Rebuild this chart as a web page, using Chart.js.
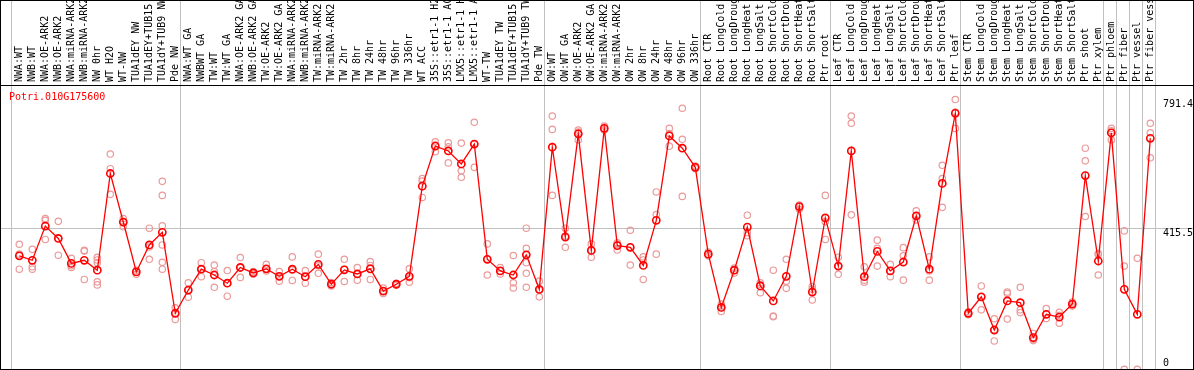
<!DOCTYPE html>
<html>
<head>
<meta charset="utf-8">
<script src="https://cdn.jsdelivr.net/npm/chart.js@4.4.1/dist/chart.umd.min.js"></script>
<style>
  html, body { margin: 0; padding: 0; background: #fff; }
  #wrap { width: 1194px; height: 370px; }
</style>
</head>
<body>
<div id="wrap"><canvas id="expr" width="1194" height="370"></canvas></div>
<script>
const geneId = 'Potri.010G175600';

const samples = [
  'NWA:WT', 'NWB:WT', 'NWA:OE-ARK2', 'NWB:OE-ARK2', 'NWA:miRNA-ARK2', 'NWB:miRNA-ARK2',
  'NW 0hr', 'WT H2O', 'WT-NW', 'TUA1dEY NW', 'TUA1dEY+TUB15', 'TUA1dY+TUB9 NW', 'Pde NW',
  'NWA:WT GA', 'NWBWT GA', 'TW:WT', 'TW:WT GA', 'NWA:OE-ARK2 GA', 'NWB:OE-ARK2 GA',
  'TW:OE-ARK2', 'TW:OE-ARK2 GA', 'NWA:miRNA-ARK2', 'NWB:miRNA-ARK2', 'TW:miRNA-ARK2',
  'TW:miRNA-ARK2', 'TW 2hr', 'TW 8hr', 'TW 24hr', 'TW 48hr', 'TW 96hr', 'TW 336hr',
  'WT ACC', '35S::etr1-1 H2', '35S::etr1-1 AC', 'LMX5::etr1-1 H', 'LMX5::etr1-1 A',
  'WT-TW', 'TUA1dEY TW', 'TUA1dEY+TUB15', 'TUA1dY+TUB9 TW', 'Pde TW',
  'OW:WT', 'OW:WT GA', 'OW:OE-ARK2', 'OW:OE-ARK2 GA', 'OW:miRNA-ARK2', 'OW:miRNA-ARK2',
  'OW 2hr', 'OW 8hr', 'OW 24hr', 'OW 48hr', 'OW 96hr', 'OW 336hr',
  'Root CTR', 'Root LongCold', 'Root LongDroug', 'Root LongHeat', 'Root LongSalt',
  'Root ShortCold', 'Root ShortDrou', 'Root ShortHeat', 'Root ShortSalt', 'Ptr root',
  'Leaf CTR', 'Leaf LongCold', 'Leaf LongDroug', 'Leaf LongHeat', 'Leaf LongSalt',
  'Leaf ShortCold', 'Leaf ShortDrou', 'Leaf ShortHeat', 'Leaf ShortSalt', 'Ptr leaf',
  'Stem CTR', 'Stem LongCold', 'Stem LongDroug', 'Stem LongHeat', 'Stem LongSalt',
  'Stem ShortCold', 'Stem ShortDrou', 'Stem ShortHeat', 'Stem ShortSalt',
  'Ptr shoot', 'Ptr xylem', 'Ptr phloem', 'Ptr fiber', 'Ptr vessel', 'Ptr fiber vess'
];

// mean expression per sample
const means = [
  334, 321, 421, 385, 312, 321, 292, 575, 433, 287, 366, 403, 166,
  234, 295, 278, 254, 300, 284, 296, 274, 295, 273, 309, 251, 293, 281, 296, 231, 251, 274,
  538, 655, 641, 603, 661, 324, 290, 278, 337, 236,
  652, 389, 691, 350, 707, 364, 359, 306, 438, 685, 649, 593,
  339, 183, 292, 418, 246, 202, 274, 478, 228, 445,
  304, 641, 273, 347, 290, 316, 451, 295, 546, 751,
  166, 214, 117, 202, 197, 95, 163, 155, 193, 569, 319, 694, 236, 163, 678
];

// individual replicates per sample
const replicates = [
  [368, 339, 295], [353, 302, 295], [443, 438, 382], [435, 385, 336], [327, 305, 300],
  [350, 348, 265], [330, 322, 314, 258, 249], [632, 589, 514], [443, 433, 419],
  [292, 287, 280], [415, 360, 324], [552, 511, 422, 366, 315, 295], [182, 166, 148],
  [255, 234, 213], [314, 296, 273], [307, 288, 242], [291, 254, 216], [329, 300, 271],
  [288, 284, 280], [309, 296, 290], [288, 274, 260], [331, 292, 262], [291, 273, 254],
  [339, 305, 283], [256, 251, 246], [324, 295, 259], [300, 281, 263], [317, 306, 265],
  [240, 231, 224], [254, 251, 248], [296, 270, 257], [560, 553, 505], [668, 658, 639],
  [665, 653, 606], [664, 583, 564], [725, 661, 593], [369, 325, 278], [300, 290, 281],
  [335, 255, 240], [415, 356, 337, 314, 283, 242], [260, 234, 214],
  [743, 704, 511], [415, 392, 359], [702, 696, 673], [369, 350, 330], [714, 707, 702],
  [372, 368, 351], [409, 360, 307], [331, 322, 265], [521, 455, 339], [707, 692, 655],
  [766, 675, 508], [597, 593, 589],
  [345, 339, 334], [193, 185, 171], [298, 292, 284], [453, 402, 393], [255, 250, 226],
  [292, 158, 156], [324, 260, 239], [483, 478, 471], [244, 236, 205], [511, 434, 382],
  [330, 304, 280], [743, 722, 454], [302, 263, 257], [380, 356, 304], [309, 290, 273],
  [358, 334, 263], [466, 450, 439], [331, 290, 263], [599, 560, 476], [791.4, 755, 707],
  [170, 166, 162], [246, 214, 176], [150, 117, 85], [228, 224, 149], [242, 176, 168],
  [107, 90, 86], [180, 163, 151], [169, 160, 137], [199, 193, 187], [649, 612, 449],
  [341, 338, 278], [707, 700, 673], [407, 304, 2], [327, 2], [722, 694, 621]
];

const yTicks = [0, 415.5, 791.4];
const midLine = 415.5;

// last sample index of each group (separator drawn after it)
const groupEnds = [-1, 12, 40, 52, 62, 72, 83, 84, 85, 86, 87];

const mono = "'DejaVu Sans Mono', monospace";

const meanPoints = means.map((v, i) => ({x: i, y: v}));
const repPoints = [];
replicates.forEach((reps, i) => reps.forEach(v => repPoints.push({x: i, y: v})));

function noPadding(s) {
  s.paddingLeft = 0;
  s.paddingRight = 0;
  s.paddingTop = 0;
  s.paddingBottom = 0;
}

const framePlugin = {
  id: 'frame',
  beforeDatasetsDraw(chart) {
    const {ctx, scales: {x}} = chart;
    ctx.save();
    ctx.strokeStyle = '#c0c0c0';
    ctx.lineWidth = 1;
    groupEnds.forEach(i => {
      const px = Math.round(x.getPixelForValue(i + 0.38)) + 0.5;
      ctx.beginPath();
      ctx.moveTo(px, 0);
      ctx.lineTo(px, chart.height);
      ctx.stroke();
    });
    ctx.restore();
  },
  afterDraw(chart) {
    const {ctx, chartArea} = chart;
    ctx.save();
    ctx.strokeStyle = '#000';
    ctx.lineWidth = 1;
    ctx.strokeRect(0.5, 0.5, chart.width - 1, chart.height - 1);
    ctx.beginPath();
    ctx.moveTo(0, chartArea.top + 0.5);
    ctx.lineTo(chart.width, chartArea.top + 0.5);
    ctx.stroke();
    ctx.fillStyle = '#ff0000';
    ctx.font = '10px ' + mono;
    ctx.textBaseline = 'middle';
    ctx.fillText(geneId, chartArea.left + 9, chartArea.top + 12);
    ctx.restore();
  }
};

new Chart(document.getElementById('expr'), {
  type: 'line',
  data: {
    datasets: [
      {
        label: geneId,
        data: meanPoints,
        borderColor: '#ff0000',
        borderWidth: 1.3,
        pointRadius: 3.6,
        pointBorderWidth: 1.6,
        pointBorderColor: '#ff0000',
        pointBackgroundColor: 'rgba(0,0,0,0)',
        tension: 0,
        order: 1
      },
      {
        label: 'replicates',
        data: repPoints,
        showLine: false,
        pointRadius: 3.2,
        pointBorderWidth: 1.2,
        pointBorderColor: '#eb9a9a',
        pointBackgroundColor: 'rgba(0,0,0,0)',
        order: 2
      }
    ]
  },
  options: {
    responsive: false,
    animation: false,
    events: [],
    layout: { padding: 0, autoPadding: false },
    plugins: {
      legend: { display: false },
      tooltip: { enabled: false }
    },
    scales: {
      x: {
        type: 'linear',
        position: 'top',
        min: -1.485,
        max: 90.285,
        grid: { display: false, drawTicks: false },
        border: { display: false },
        afterBuildTicks: s => { s.ticks = samples.map((_, i) => ({value: i})); },
        afterFit: s => { s.height = 85; noPadding(s); },
        ticks: {
          autoSkip: false,
          minRotation: 90,
          maxRotation: 90,
          padding: 3,
          labelOffset: 12,
          color: '#000',
          font: { family: mono, size: 10 },
          callback: v => samples[v]
        }
      },
      y: {
        position: 'right',
        min: 0,
        max: 834,
        afterBuildTicks: s => { s.ticks = yTicks.map(v => ({value: v})); },
        afterFit: s => { s.width = 1; noPadding(s); },
        grid: {
          drawTicks: false,
          color: c => (c.tick && c.tick.value === midLine) ? '#c0c0c0' : 'rgba(0,0,0,0)'
        },
        border: { display: false },
        ticks: {
          mirror: true,
          crossAlign: 'far',
          padding: 0,
          labelOffset: 5,
          color: '#000',
          font: { family: mono, size: 10, lineHeight: 1.2 },
          callback: v => v === 0 ? ['0', '', ''] : String(v)
        }
      }
    }
  },
  plugins: [framePlugin]
});
</script>
</body>
</html>
